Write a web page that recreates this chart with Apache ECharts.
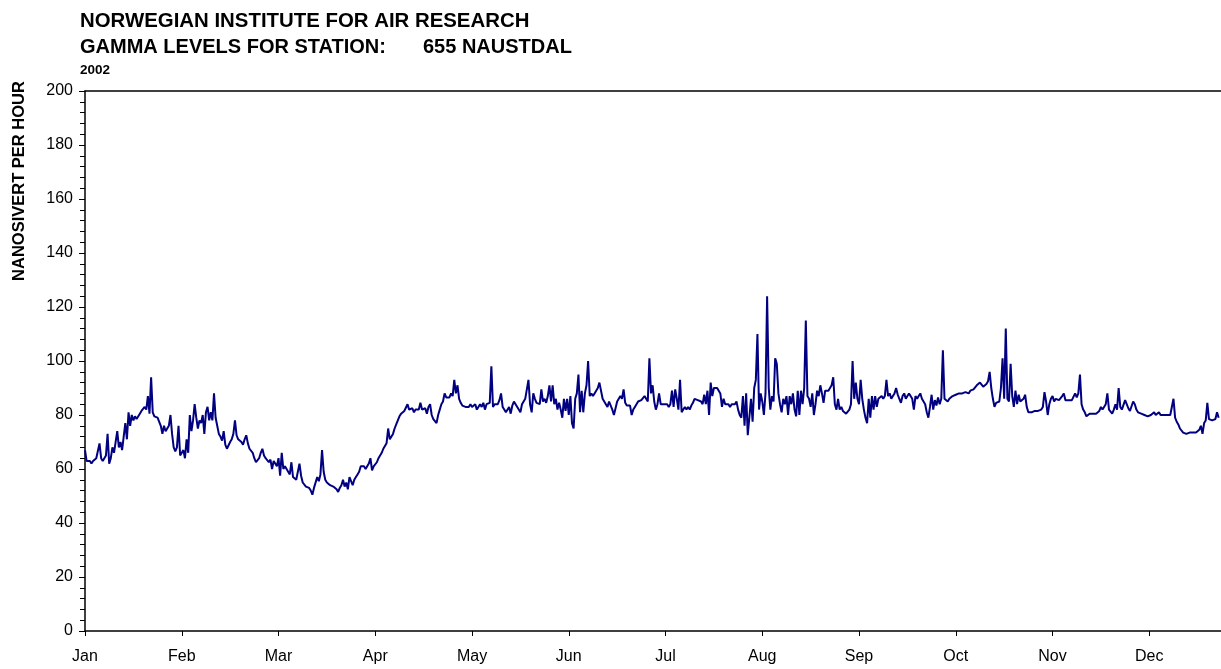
<!DOCTYPE html>
<html>
<head>
<meta charset="utf-8">
<title>Gamma levels 655 Naustdal 2002</title>
<script src="https://cdn.jsdelivr.net/npm/echarts@6/dist/echarts.min.js"></script>
<style>
  html, body { margin: 0; padding: 0; background: #fff; }
  #main { width: 1221px; height: 669px; }
</style>
</head>
<body>
<div id="main"></div>
<script>
// month labels on the x axis (axis is in hours, one label every 730 h)
const months = ["Jan", "Feb", "Mar", "Apr", "May", "Jun", "Jul", "Aug", "Sep", "Oct", "Nov", "Dec"];
const HOURS_PER_MONTH = 730;
const SAMPLES_PER_MONTH = 60; // one reading roughly every 12 h
// the original picture is cut off on the right, a little before the end of the year
const VISIBLE_HOURS = 8571;

// nSv/h readings, month by month
const jan = [67, 63, 62.5, 63, 62, 63, 63.5, 64, 64, 69.5, 64, 63, 63.5, 65, 73, 62, 64, 68, 66, 65.5,
  74, 68, 70, 67, 72, 77, 71, 81, 76, 80, 78, 79.5, 78.5, 79, 80.5, 81.5, 81, 83, 82, 87,
  80.5, 94, 81, 79.5, 79.5, 79, 79.5, 76, 73, 76, 74, 75, 76, 80, 73, 68, 66.5, 68, 76, 65];
const feb = [65, 67, 64, 71, 66, 80, 74, 78, 84, 79, 75, 78, 77, 80, 73, 81, 83, 78, 81, 78,
  88, 79, 76, 73, 72, 70.5, 74, 69, 67.5, 68, 70, 71, 73, 78, 72.5, 71, 71, 70, 69, 71,
  72.5, 69.5, 67.5, 67, 66, 64, 62.5, 62, 64, 66, 67.5, 65, 64, 63.5, 62.5, 63.5, 60, 63, 62.5, 61];
const mar = [64, 57.5, 66, 60, 61, 60.5, 59, 58, 62.5, 57, 57.5, 56, 56, 62, 57.5, 55, 54.5, 53.5, 53.5, 53,
  52, 50.5, 53, 55, 57, 55.5, 58, 67, 59, 56, 55, 54.5, 54, 54, 53.5, 53, 52.5, 51.5, 53, 54,
  56, 53.5, 55, 52.5, 57, 55.5, 54, 56, 57, 58, 59, 61, 60.5, 61, 60, 61, 62, 64, 59.5, 61];
const apr = [61, 62.5, 64, 64.5, 66, 67.5, 68, 69.5, 75, 71, 71.5, 73, 75, 76.5, 78, 79.5, 80.5, 81, 81.5, 82,
  84, 82, 81.5, 82.5, 81, 82, 82.5, 82, 84.5, 82, 81.5, 82.5, 80.5, 83, 84, 80, 78.5, 78, 77, 80,
  82, 84, 85, 88, 86.5, 86, 86.5, 88, 87, 93, 88, 91, 86, 84.5, 83.5, 84, 83, 83.5, 83, 84];
const may = [83, 82.5, 84, 82, 82.5, 84, 83, 84.5, 82, 84, 83.5, 84.5, 98, 83, 84, 83.5, 84, 85.5, 88, 83,
  82, 81, 81.5, 83, 80.5, 83.5, 85, 84, 84, 82, 81, 84, 84, 86, 86, 93, 84, 81, 88, 86,
  84.5, 85, 84, 89.5, 85, 86, 84.5, 87, 91, 85, 91, 84, 86, 82, 84.5, 82, 79, 86, 81.5, 86];
const jun = [80, 87, 77, 75, 86, 88, 95, 81, 89, 81, 88, 91, 100, 87, 88, 87, 88, 87.5, 90, 92,
  89, 86, 86.5, 84, 83, 85, 84.5, 82, 80, 82.5, 85, 85.5, 87, 86, 89.5, 84.5, 83.5, 83, 83.5, 80,
  82, 83, 83.5, 85, 85, 85.5, 85, 87, 86, 85, 101, 88, 91, 85, 82, 84, 88, 84, 83.5, 84];
const jul = [83.5, 84, 83, 84, 89, 83, 89.5, 86, 82, 93, 81, 82, 83, 82, 83, 82, 83.5, 84.5, 86, 86,
  85.5, 86, 85, 84, 87.5, 84, 89, 80, 92, 87, 90, 90.5, 90, 90, 88, 83, 86, 84, 83.5, 84,
  83, 84, 83.5, 84, 85, 82, 80, 79, 87, 76, 88, 72.5, 73, 86, 77.5, 90, 93, 110, 82, 88];
const aug = [85, 80, 88, 124, 90, 82, 87, 85, 101, 99, 88, 84, 81, 86, 84, 87, 80, 87, 84, 88,
  82, 79.5, 89, 80, 89, 84, 90, 115, 87, 86, 83, 88, 80, 84, 89, 87, 91, 88, 84.5, 89,
  88.5, 89, 90, 91, 94, 84, 82, 86, 82, 83, 81.5, 81, 80.5, 80, 82, 84, 100, 86, 92, 86];
const sep = [84, 93, 86, 82, 79, 77, 86, 79, 87, 82, 87, 83, 86, 86.5, 87, 86, 87, 93, 87, 88,
  86, 87, 88, 90, 87.5, 86, 84.5, 87, 88, 86, 87, 88, 87.5, 86, 82, 87, 86, 87, 88, 86,
  85.5, 84, 81, 79, 83, 87.5, 82, 85.5, 83.5, 86.5, 84, 86, 104, 86, 85.5, 85, 86, 86.5, 87, 87];
const oct = [87.5, 87.5, 88, 87.5, 88, 88, 88.5, 88.5, 88, 89, 88.5, 89.5, 90, 91, 90.5, 92, 92, 90.5, 91, 91.5,
  92.5, 96, 90, 86, 83, 84.5, 85, 85, 90, 101, 86, 112, 86, 85, 99, 87, 83, 89, 84, 87.5,
  85, 85.5, 86, 87.5, 83, 81, 80.5, 81, 81.5, 81.5, 82, 81.5, 82, 82, 83, 88.5, 85, 80, 84, 86];
const nov = [87, 85, 86, 86, 85.5, 86, 87, 88, 85.5, 86, 85.5, 86, 85.5, 86, 88, 86.5, 88, 95, 84, 82,
  81, 79.5, 79, 80.5, 80, 80.5, 81, 80.5, 81, 81.5, 83, 82, 82, 84, 88, 82, 81.5, 80.5, 82, 84,
  82, 90, 83, 82, 82, 85.5, 84, 82.5, 81.5, 82, 85, 84, 82, 81, 80.5, 80.5, 80, 80, 80.5, 79.5];
const dec = [80, 80, 80.5, 81, 80, 80.5, 81, 80, 79.5, 80, 79.5, 80, 79.5, 80, 79.5, 86, 79, 77.5, 76.5, 75,
  74.5, 73.5, 73.5, 73, 73.5, 73.5, 73, 73.5, 74, 73.5, 74, 74.5, 76, 73, 77, 78, 84.5, 78.5, 79, 78,
  78.5, 78.5, 81, 79];

const monthSeries = [jan, feb, mar, apr, may, jun, jul, aug, sep, oct, nov, dec];

const FONT = "Arial, 'Liberation Sans', Helvetica, sans-serif";

// [hour of year, value]
const points = [];
monthSeries.forEach((vals, m) => {
  vals.forEach((v, i) => {
    points.push([m * HOURS_PER_MONTH + (i * HOURS_PER_MONTH) / SAMPLES_PER_MONTH, v]);
  });
});

const chart = echarts.init(document.getElementById("main"), null, { renderer: "canvas" });

const titleStyle = { fontFamily: FONT, fontSize: 20, fontWeight: "bold", color: "#000" };

const option = {
  animation: false,
  backgroundColor: "#fff",
  title: [
    {
      text: "NORWEGIAN INSTITUTE FOR AIR RESEARCH",
      left: 80, top: 11, padding: 0,
      textStyle: Object.assign({}, titleStyle, { fontSize: 20.4 }),
    },
    { text: "GAMMA LEVELS FOR STATION:", left: 80, top: 37, padding: 0, textStyle: titleStyle },
    { text: "655 NAUSTDAL", left: 423, top: 37, padding: 0, textStyle: titleStyle },
    {
      text: "2002",
      left: 80, top: 63, padding: 0,
      textStyle: { fontFamily: FONT, fontSize: 13.5, fontWeight: "bold", color: "#000" },
    },
  ],
  graphic: [
    {
      type: "text",
      x: 19, y: 181,
      rotation: Math.PI / 2,
      style: {
        text: "NANOSIVERT PER HOUR",
        fontFamily: FONT, fontSize: 16.5, fontWeight: "bold",
        fill: "#000", align: "center", verticalAlign: "middle",
      },
    },
  ],
  grid: { left: 85, right: 0, top: 91, bottom: 38 },
  xAxis: [
    {
      type: "value",
      min: 0,
      max: VISIBLE_HOURS,
      interval: HOURS_PER_MONTH,
      axisLine: { show: true, lineStyle: { color: "#000", width: 1.5 } },
      axisTick: { show: true, length: 5, lineStyle: { color: "#000", width: 1 } },
      splitLine: { show: false },
      axisLabel: {
        fontFamily: FONT, fontSize: 16, color: "#000", margin: 18,
        showMaxLabel: false,
        formatter: (v) => (v % HOURS_PER_MONTH === 0 ? months[v / HOURS_PER_MONTH] || "" : ""),
      },
    },
    {
      // top frame line only
      type: "value",
      position: "top",
      min: 0,
      max: VISIBLE_HOURS,
      axisLine: { show: true, lineStyle: { color: "#000", width: 1.5 } },
      axisTick: { show: false },
      axisLabel: { show: false },
      splitLine: { show: false },
    },
  ],
  yAxis: {
    type: "value",
    min: 0, max: 200, interval: 20,
    axisLine: { show: true, lineStyle: { color: "#000", width: 1.5 } },
    axisTick: { show: true, length: 6, lineStyle: { color: "#000", width: 1 } },
    minorTick: { show: true, splitNumber: 5, length: 5, lineStyle: { color: "#000", width: 1 } },
    splitLine: { show: false },
    axisLabel: { fontFamily: FONT, fontSize: 16, color: "#000", margin: 12 },
  },
  series: [
    {
      name: "Gamma",
      type: "line",
      xAxisIndex: 0,
      data: points,
      showSymbol: false,
      symbol: "none",
      lineStyle: { color: "#000080", width: 2 },
      itemStyle: { color: "#000080" },
    },
  ],
};

chart.setOption(option);
</script>
</body>
</html>
